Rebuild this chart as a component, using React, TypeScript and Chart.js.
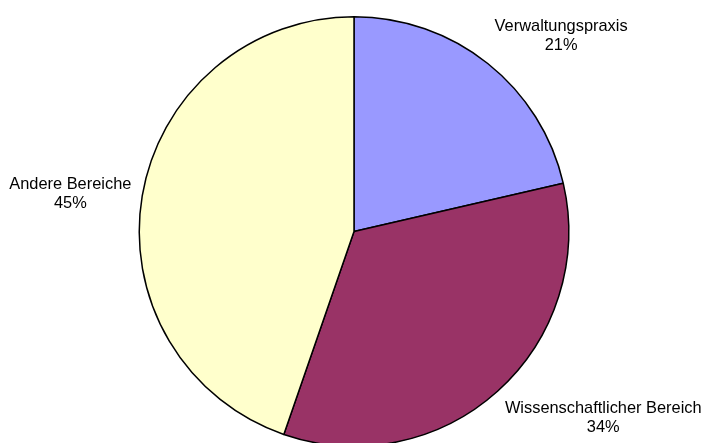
import React, { useEffect, useRef } from "react";
import { Chart, registerables } from "chart.js";

Chart.register(...registerables);

const categories = ["Verwaltungspraxis", "Wissenschaftlicher Bereich", "Andere Bereiche"];
const shares = [21.4, 33.9, 44.7];
const sliceColors = ["#9999FF", "#993366", "#FFFFCC"];

const FONT = '16.4px "Liberation Sans", Arial, sans-serif';
const LINE_H = 19;
const GAP = 11;

const outsideLabels = {
  id: "outsideLabels",
  afterDatasetsDraw(chart: any) {
    const ctx = chart.ctx;
    const meta = chart.getDatasetMeta(0);
    const data = chart.data.datasets[0].data as number[];
    const total = data.reduce((a, b) => a + b, 0);
    ctx.save();
    ctx.font = FONT;
    ctx.fillStyle = "#000";
    ctx.textAlign = "center";
    ctx.textBaseline = "middle";
    meta.data.forEach((arc: any, i: number) => {
      const mid = (arc.startAngle + arc.endAngle) / 2;
      const dx = Math.cos(mid);
      const dy = Math.sin(mid);
      const r = arc.outerRadius + GAP;
      const px = arc.x + dx * r;
      const py = arc.y + dy * r;
      const lines = [
        String(chart.data.labels[i]),
        Math.round((data[i] / total) * 100) + "%",
      ];
      const w = Math.max(...lines.map((l) => ctx.measureText(l).width));
      const h = LINE_H * lines.length;
      const cx = Math.abs(dx) < 0.3 ? px : px + Math.sign(dx) * w / 2;
      const cy = Math.abs(dy) < 0.3 ? py : py + Math.sign(dy) * h / 2;
      lines.forEach((l, k) => {
        ctx.fillText(l, cx, cy - h / 2 + LINE_H / 2 + k * LINE_H);
      });
    });
    ctx.restore();
  },
};

export default function App() {
  const ref = useRef<HTMLCanvasElement>(null);
  useEffect(() => {
    if (!ref.current) return;
    const chart = new Chart(ref.current, {
      type: "pie",
      data: {
        labels: categories,
        datasets: [
          {
            data: shares,
            backgroundColor: sliceColors,
            borderColor: "#000000",
            borderWidth: 1.5,
          },
        ],
      },
      options: {
        responsive: false,
        animation: false,
        devicePixelRatio: 1,
        layout: { padding: { top: 16, bottom: 13, left: 138, right: 135 } },
        plugins: {
          legend: { display: false },
          tooltip: { enabled: false },
        },
      },
      plugins: [outsideLabels],
    });
    return () => chart.destroy();
  }, []);
  return (
    <div
      style={{
        position: "absolute",
        left: 0,
        top: 0,
        width: 705,
        height: 443,
        overflow: "hidden",
        background: "#fff",
      }}
    >
      <canvas ref={ref} width={705} height={460} style={{ display: "block" }} />
    </div>
  );
}
